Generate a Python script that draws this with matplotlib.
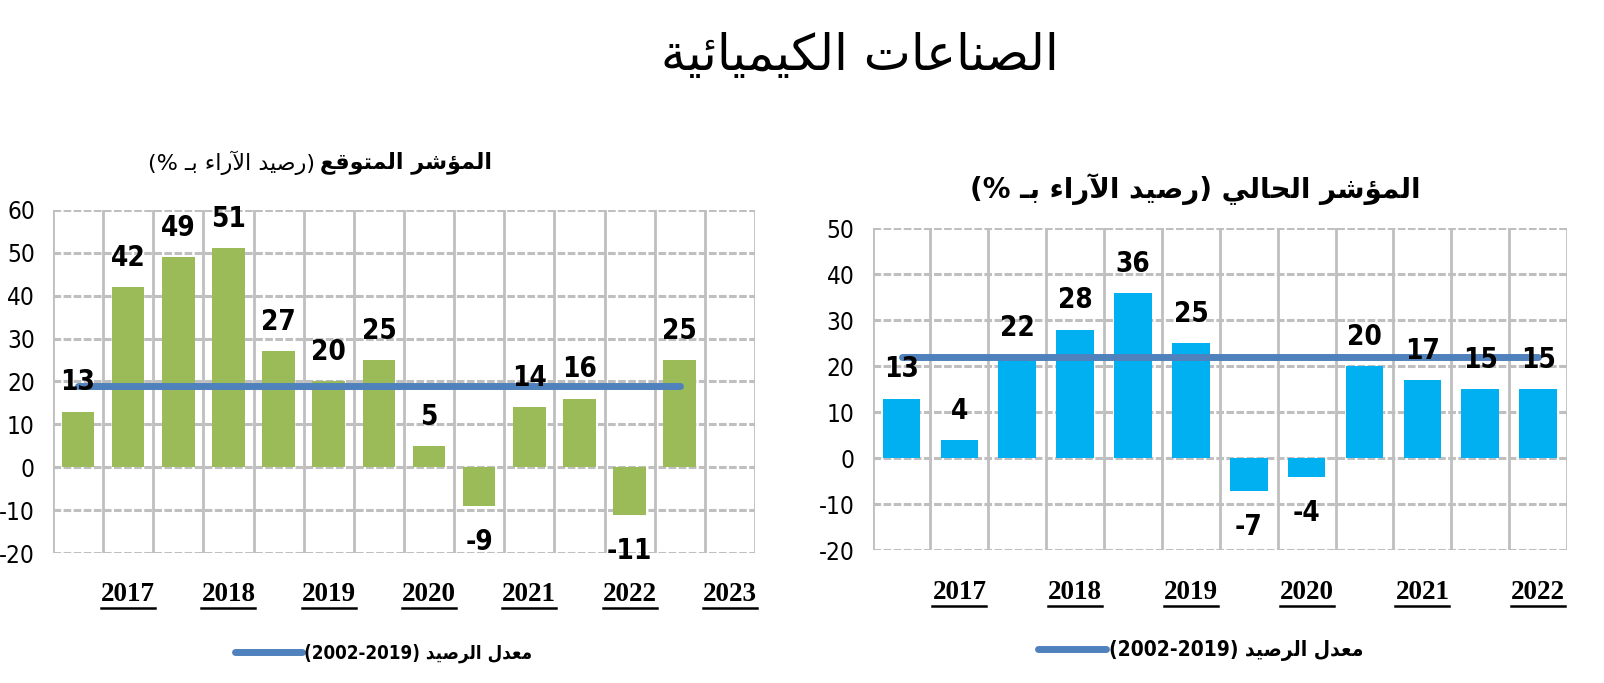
import re
import matplotlib
matplotlib.use("Agg")
import matplotlib.pyplot as plt
from matplotlib.lines import Line2D
import numpy as np

# --- data ---
fut_vals = [13, 42, 49, 51, 27, 20, 25, 5, -9, 14, 16, -11, 25]
fut_avg = 19
fut_years = ["2017", "2018", "2019", "2020", "2021", "2022", "2023"]
fut_ncat = 14

cur_vals = [13, 4, 22, 28, 36, 25, -7, -4, 20, 17, 15, 15]
cur_avg = 22
cur_years = ["2017", "2018", "2019", "2020", "2021", "2022"]
cur_ncat = 12

title = "الصناعات الكيميائية"
fut_title_bold = "المؤشر المتوقع"
fut_title_rest = "(رصيد الآراء بـ %)"
cur_title = "المؤشر الحالي (رصيد الآراء بـ %)"
avg_label = "معدل الرصيد (2002-2019)"

# --- minimal arabic shaping (matplotlib does no shaping / bidi) ---
DUAL = {'ئ': 0xFE89, 'ب': 0xFE8F, 'ت': 0xFE95, 'ح': 0xFEA1, 'س': 0xFEB1,
        'ش': 0xFEB5, 'ص': 0xFEB9, 'ع': 0xFEC9, 'ق': 0xFED5, 'ك': 0xFED9,
        'ل': 0xFEDD, 'م': 0xFEE1, 'ن': 0xFEE5, 'ه': 0xFEE9, 'ي': 0xFEF1}
RIGHT = {'آ': 0xFE81, 'ؤ': 0xFE85, 'ا': 0xFE8D, 'ة': 0xFE93, 'د': 0xFEA9,
         'ر': 0xFEAD, 'و': 0xFEED}
NONE = {'ء': 0xFE80}
LAMALEF = {'ا': 0xFEFB, 'آ': 0xFEF5}
TATWEEL = 'ـ'


def shape(text):
    out = []
    i, n = 0, len(text)
    while i < n:
        c = text[i]
        p = i > 0 and (text[i - 1] in DUAL or text[i - 1] == TATWEEL)
        nxt = text[i + 1] if i + 1 < n else ''
        if c == 'ل' and nxt in LAMALEF:
            out.append(chr(LAMALEF[nxt] + (1 if p else 0)))
            i += 2
            continue
        nj = nxt in DUAL or nxt in RIGHT or nxt == TATWEEL
        if c in DUAL:
            form = 3 if (p and nj) else 1 if p else 2 if nj else 0
            out.append(chr(DUAL[c] + form))
        elif c in RIGHT:
            out.append(chr(RIGHT[c] + (1 if p else 0)))
        elif c in NONE:
            out.append(chr(NONE[c]))
        else:
            out.append(c)
        i += 1
    return ''.join(out)


def ar(text):
    s = shape(text)
    mirror = str.maketrans('()', ')(')
    parts = [x for x in re.split(r'([0-9][0-9\-]*)', s) if x]
    parts = [x if x[0].isdigit() else x[::-1].translate(mirror) for x in parts]
    return ''.join(reversed(parts))


plt.rcParams['axes.unicode_minus'] = False
NARROW = ['DejaVu Sans']
ARAB = ['DejaVu Sans']
GRID = '#BFBFBF'
LINE = '#4F81BD'

fig = plt.figure(figsize=(16.04, 6.83), dpi=100)
axes = []


def panel(rect, vals, avg, years, ncat, color, ylim, legend_xy, legsize, hl):
    ax = fig.add_axes(rect)
    x = np.arange(len(vals))
    ax.set_xlim(-0.5, ncat - 0.5)
    ax.set_ylim(*ylim)
    for s in ax.spines.values():
        s.set_visible(False)
    ax.set_yticks(np.arange(ylim[0], ylim[1] + 1, 10))
    ax.yaxis.grid(True, color=GRID, lw=2.2, ls=(0, (2.5, 0.8)))
    ax.set_xticks(np.arange(-0.5, ncat, 1.0), minor=True)
    ax.xaxis.grid(True, which='minor', color=GRID, lw=2.0, ls='-')
    ax.set_axisbelow(True)
    ax.set_xticks(np.arange(1, ncat, 2)[:len(years)])
    ax.set_xticklabels(years, fontsize=19.5, fontweight='bold',
                       family='Liberation Serif')
    ax.tick_params(axis='x', which='both', length=0, pad=21)
    ax.tick_params(axis='y', length=0, pad=13)
    for t in ax.get_yticklabels():
        t.set_family(NARROW)
        t.set_fontstretch('condensed')
        t.set_fontsize(17.5)

    ax.bar(x, vals, width=0.65, color=color, zorder=2)
    ax.plot([x[0], x[-1]], [avg, avg], color=LINE, lw=5, zorder=3,
            solid_capstyle='round', label=ar(avg_label))
    for xi, v in zip(x, vals):
        off = 11 if v >= 0 else -16
        ax.annotate(str(v), (xi, v), xytext=(0, off), textcoords='offset points',
                    ha='center', va='bottom' if v >= 0 else 'top',
                    fontsize=20, fontweight='bold', family=NARROW,
                    fontstretch='condensed', zorder=4)
    ax.legend(loc='center', bbox_to_anchor=legend_xy, frameon=False,
              handlelength=hl, handletextpad=0.1,
              prop={'family': NARROW, 'weight': 'bold', 'size': legsize,
                    'stretch': 'condensed'})
    axes.append(ax)
    return ax


panel([0.033, 0.190, 0.4377, 0.503], fut_vals, fut_avg, fut_years, fut_ncat,
      '#9BBB59', (-20, 60), (0.471, -0.29), 13.5, 3.6)
panel([0.544, 0.194, 0.433, 0.4716], cur_vals, cur_avg, cur_years, cur_ncat,
      '#00B0F0', (-20, 50), (0.472, -0.31), 15, 3.3)

fig.text(860 / 1604, 1 - 56 / 683, ar(title), ha='center', va='center',
         fontsize=36, family=ARAB)
fig.text(320 / 1604, 1 - 163 / 683, ar(fut_title_bold), ha='left', va='center',
         fontsize=16, fontweight='bold', family=ARAB)
fig.text(315 / 1604, 1 - 163 / 683, ar(fut_title_rest), ha='right', va='center',
         fontsize=16, family=ARAB)
fig.text(1195 / 1604, 1 - 189 / 683, ar(cur_title), ha='center', va='center',
         fontsize=20, fontweight='bold', family=ARAB)

# underline the year labels
fig.canvas.draw()
r = fig.canvas.get_renderer()
W, H = fig.bbox.width, fig.bbox.height
for ax in axes:
    for t in ax.get_xticklabels():
        bb = t.get_window_extent(r)
        y = bb.y0 - 1
        fig.add_artist(Line2D([bb.x0 / W, bb.x1 / W], [y / H, y / H],
                              transform=fig.transFigure, color='black', lw=1.8))

fig.savefig('out.png', dpi=100)
